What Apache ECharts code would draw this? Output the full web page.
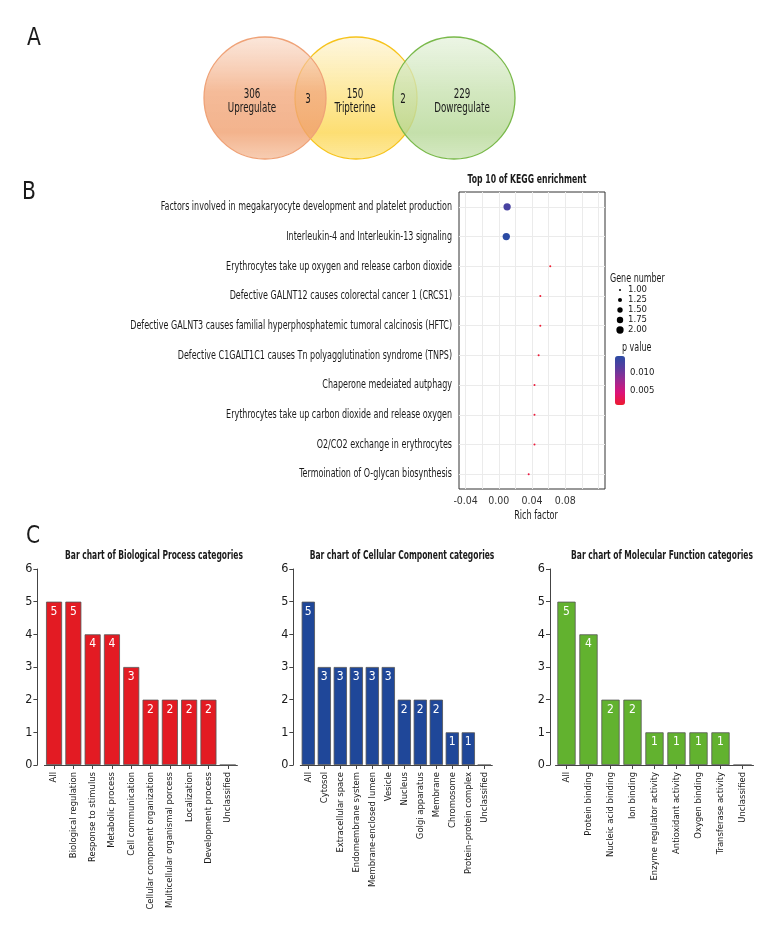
<!DOCTYPE html>
<html><head><meta charset="utf-8">
<script src="https://cdn.jsdelivr.net/npm/echarts@6/dist/echarts.min.js"></script>
<style>html,body{margin:0;padding:0;background:#fff}#c{width:780px;height:936px}</style>
</head><body><div id="c"></div>
<script>
// ---------- Panel A: Venn ----------
const vennSets = ['Upregulate', 'Tripterine', 'Dowregulate'];
const vennCounts = [306, 150, 229];
const vennOverlaps = [3, 2]; // Upregulate∩Tripterine, Tripterine∩Dowregulate

// ---------- Panel B: KEGG ----------
const keggPathways = [
  'Factors involved in megakaryocyte development and platelet production',
  'Interleukin-4 and Interleukin-13 signaling',
  'Erythrocytes take up oxygen and release carbon dioxide',
  'Defective GALNT12 causes colorectal cancer 1 (CRCS1)',
  'Defective GALNT3 causes familial hyperphosphatemic tumoral calcinosis (HFTC)',
  'Defective C1GALT1C1 causes Tn polyagglutination syndrome (TNPS)',
  'Chaperone medeiated autphagy',
  'Erythrocytes take up carbon dioxide and release oxygen',
  'O2/CO2 exchange in erythrocytes',
  'Termoination of O-glycan biosynthesis'
];
const keggRichFactor = [0.010, 0.009, 0.062, 0.050, 0.050, 0.048, 0.043, 0.043, 0.043, 0.036];
const keggGeneNumber = [2, 2, 1, 1, 1, 1, 1, 1, 1, 1];
const keggPValue = [0.0125, 0.0145, 0.0011, 0.0013, 0.0013, 0.0014, 0.0016, 0.0016, 0.0016, 0.0019];
const richTickLabels = [-0.04, 0, 0.04, 0.08];
const richGridBreaks = [-0.04, -0.02, 0, 0.02, 0.04, 0.06, 0.08, 0.10, 0.12];
const geneLegendValues = [1.00, 1.25, 1.50, 1.75, 2.00];
const pTickLabels = [0.005, 0.010];

// ---------- Panel C: GO bar charts ----------
const bpCategories = ['All', 'Biological regulation', 'Response to stimulus', 'Metabolic process', 'Cell communication',
  'Cellular component organization', 'Multicellular organismal porcess', 'Localization', 'Development process', 'Unclassified'];
const bpValues = [5, 5, 4, 4, 3, 2, 2, 2, 2, 0];
const ccCategories = ['All', 'Cytosol', 'Extracellular space', 'Endomembrane system', 'Membrane-enclosed lumen', 'Vesicle',
  'Nucleus', 'Golgi apparatus', 'Membrane', 'Chromosome', 'Protein\u2013protein complex', 'Unclassified'];
const ccValues = [5, 3, 3, 3, 3, 3, 2, 2, 2, 1, 1, 0];
const mfCategories = ['All', 'Protein binding', 'Nucleic acid binding', 'Ion binding', 'Enzyme regulator activity',
  'Antioxidant activity', 'Oxygen binding', 'Transferase activity', 'Unclassified'];
const mfValues = [5, 4, 2, 2, 1, 1, 1, 1, 0];

// ---------- styling / layout ----------
const FONT = "'DejaVu Sans Condensed', 'Liberation Sans Narrow', sans-serif";
const TXT = '#1a1a1a';
const vennLayout = {
  centers: [[61, 61], [152, 61], [250, 61]],
  r: 61,
  drawOrder: [1, 0, 2],
  setLabelPos: [[48, 64], [151, 64], [258, 64]],
  overlapLabelPos: [[104, 62], [199, 62]]
};
const vennStyle = [
  { stops: ['rgba(248,214,194,0.6)', 'rgba(242,168,124,0.78)', 'rgba(240,160,112,0.8)', 'rgba(244,184,146,0.7)'], stroke: '#efa277' },
  { stops: ['rgba(254,244,212,0.75)', 'rgba(253,228,136,0.8)', 'rgba(252,214,80,0.8)', 'rgba(253,226,124,0.75)'], stroke: '#f6c31c' },
  { stops: ['rgba(228,241,218,0.7)', 'rgba(200,226,176,0.8)', 'rgba(182,216,150,0.8)', 'rgba(198,225,174,0.75)'], stroke: '#79b94a' }
];
const pColors = ['#ee1b2f', '#dc137a', '#9c2a92', '#5b3c9f', '#2b4ba4'];
const sizeOf = g => Math.sqrt(4 + 49.3 * (g - 1));

const chart = echarts.init(document.getElementById('c'), null, { renderer: 'canvas' });

function barSeries(values, color, idx) {
  return {
    type: 'bar', xAxisIndex: idx, yAxisIndex: idx, data: values, barCategoryGap: '17%',
    itemStyle: { color: color, borderColor: '#555', borderWidth: 0.8 },
    label: { show: true, position: 'insideTop', distance: 4, color: '#fff', fontSize: 12, fontFamily: FONT,
      formatter: p => (p.value > 0 ? String(p.value) : '') },
    silent: true
  };
}
function barYAxis(idx, offset) {
  return {
    type: 'value', gridIndex: idx, min: 0, max: 6, interval: 1, offset: offset,
    axisLine: { show: true, lineStyle: { color: '#444', width: 1 } },
    axisTick: { show: true, length: 4, lineStyle: { color: '#444' } },
    axisLabel: { fontSize: 12.5, color: TXT, fontFamily: FONT, margin: 5 },
    splitLine: { show: false }
  };
}
function barXAxis(idx, cats) {
  return {
    type: 'category', gridIndex: idx, data: cats,
    axisLine: { show: true, lineStyle: { color: '#444', width: 1 } },
    axisTick: { show: true, alignWithLabel: true, length: 4, lineStyle: { color: '#444' } },
    axisLabel: { rotate: 90, interval: 0, fontSize: 9.4, color: TXT, fontFamily: FONT, margin: 7 }
  };
}
function gText(text, x, y, size, sx, opts) {
  return Object.assign({ type: 'text', x: x, y: y, scaleX: sx,
    style: { text: text, fontSize: size, fontFamily: FONT, fill: TXT, align: 'center', verticalAlign: 'middle' } }, opts || {});
}

const noBounds = { outerBoundsMode: 'none', containLabel: false };
const option = {
  animation: false,
  textStyle: { fontFamily: FONT },
  grid: [
    Object.assign({ left: 204, top: 37, width: 312, height: 122 }, noBounds),          // 0 venn
    Object.assign({ left: 459, top: 192, width: 146, height: 297, show: true, borderColor: '#333', borderWidth: 1, backgroundColor: 'transparent' }, noBounds), // 1 kegg
    Object.assign({ left: 614, top: 285, width: 12, height: 50 }, noBounds),           // 2 size legend
    Object.assign({ left: 615, top: 356, width: 10, height: 49 }, noBounds),           // 3 colorbar axis
    Object.assign({ left: 44.4, top: 569, width: 193, height: 196 }, noBounds),        // 4 BP
    Object.assign({ left: 300.3, top: 569, width: 192, height: 196 }, noBounds),       // 5 CC
    Object.assign({ left: 555.5, top: 569, width: 198, height: 196 }, noBounds)        // 6 MF
  ],
  xAxis: [
    { type: 'value', gridIndex: 0, min: 0, max: 312, show: false },
    { type: 'value', gridIndex: 1, min: -0.048, max: 0.128, interval: 0.008,
      splitLine: { show: false }, axisLine: { show: false }, axisTick: { show: false },
      axisLabel: { interval: 0, fontSize: 10.5, color: '#333', fontFamily: FONT, margin: 7,
        formatter: v => richTickLabels.some(t => Math.abs(t - v) < 1e-9) ? (Math.abs(v) < 1e-9 ? 0 : v).toFixed(2) : '' } },
    { type: 'value', gridIndex: 2, min: -1, max: 1, show: false },
    { type: 'value', gridIndex: 3, min: 0, max: 1, show: false },
    barXAxis(4, bpCategories),
    barXAxis(5, ccCategories),
    barXAxis(6, mfCategories)
  ],
  yAxis: [
    { type: 'value', gridIndex: 0, min: 0, max: 122, inverse: true, show: false },
    { type: 'category', gridIndex: 1, data: keggPathways, inverse: true,
      axisLine: { show: false },
      axisTick: { show: true, alignWithLabel: true, length: 3, lineStyle: { color: '#333' } },
      axisLabel: { show: false },
      splitLine: { show: false } },
    { type: 'category', gridIndex: 2, data: geneLegendValues.map(v => v.toFixed(2)), inverse: true, position: 'right',
      axisLine: { show: false }, axisTick: { show: false },
      axisLabel: { interval: 0, fontSize: 9.5, color: TXT, fontFamily: FONT, margin: 2 } },
    { type: 'value', gridIndex: 3, min: Math.min(...keggPValue), max: Math.max(...keggPValue), splitNumber: 2, position: 'right',
      axisLine: { show: false }, axisTick: { show: false }, splitLine: { show: false },
      axisLabel: { fontSize: 9.5, color: TXT, fontFamily: FONT, margin: 5,
        formatter: v => pTickLabels.some(t => Math.abs(t - v) < 1e-9) ? v.toFixed(3) : '' } },
    barYAxis(4, 7),
    barYAxis(5, 7),
    barYAxis(6, 5.5)
  ],
  visualMap: [{
    type: 'continuous', seriesIndex: 2, dimension: 2,
    min: Math.min(...keggPValue), max: Math.max(...keggPValue),
    left: 615, top: 356, itemWidth: 10, itemHeight: 49, padding: 0,
    calculable: false, hoverLink: false, text: null, showLabel: false,
    inRange: { color: pColors }
  }],
  series: [
    { // 0 venn circles
      type: 'custom', xAxisIndex: 0, yAxisIndex: 0, silent: true, z: 2, clip: false,
      data: vennLayout.drawOrder.map(i => [i, vennCounts[i]]),
      renderItem: (params, api) => {
        const i = api.value(0);
        const c = api.coord(vennLayout.centers[i]);
        const r = api.size([vennLayout.r, 0])[0];
        const st = vennStyle[i];
        return {
          type: 'circle', shape: { cx: c[0], cy: c[1], r: r },
          style: {
            fill: new echarts.graphic.LinearGradient(0, 0, 0, 1, [
              { offset: 0, color: st.stops[0] }, { offset: 0.45, color: st.stops[1] },
              { offset: 0.78, color: st.stops[2] }, { offset: 1, color: st.stops[3] }]),
            stroke: st.stroke, lineWidth: 1.3
          }
        };
      }
    },
    { // 1 venn texts
      type: 'custom', xAxisIndex: 0, yAxisIndex: 0, silent: true, z: 3, clip: false,
      data: vennSets.map((s, i) => [i, 0]).concat(vennOverlaps.map((o, i) => [i, 1])),
      renderItem: (params, api) => {
        const i = api.value(0), kind = api.value(1);
        const pos = kind === 0 ? vennLayout.setLabelPos[i] : vennLayout.overlapLabelPos[i];
        const p = api.coord(pos);
        const txt = kind === 0 ? vennCounts[i] + '\n' + vennSets[i] : String(vennOverlaps[i]);
        return {
          type: 'text', x: p[0], y: p[1], scaleX: 0.72,
          style: { text: txt, fontSize: 13.5, fontFamily: FONT, fill: TXT, align: 'center', verticalAlign: 'middle', lineHeight: 14 }
        };
      }
    },
    { // 2 KEGG dot plot
      type: 'scatter', xAxisIndex: 1, yAxisIndex: 1, z: 4,
      data: keggPathways.map((p, i) => [keggRichFactor[i], p, keggPValue[i], keggGeneNumber[i]]),
      symbolSize: v => sizeOf(v[3]),
      itemStyle: { opacity: 1 },
      markLine: {
        silent: true, symbol: 'none', z: 1, animation: false,
        label: { show: false },
        lineStyle: { color: '#ebebeb', width: 1, type: 'solid' },
        emphasis: { disabled: true },
        data: richGridBreaks.map(b => ({ xAxis: b })).concat(keggPathways.map(p => ({ yAxis: p })))
      }
    },
    { // 3 size legend
      type: 'scatter', xAxisIndex: 2, yAxisIndex: 2, silent: true,
      data: geneLegendValues.map(v => [0, v.toFixed(2)]),
      symbolSize: v => sizeOf(parseFloat(v[1])),
      itemStyle: { color: '#000', opacity: 1 }
    },
    barSeries(bpValues, '#e31b23', 4),
    barSeries(ccValues, '#1f4799', 5),
    barSeries(mfValues, '#62b22f', 6),
    { // 7 KEGG pathway labels (condensed)
      type: 'custom', xAxisIndex: 1, yAxisIndex: 1, silent: true, clip: false, z: 5,
      data: keggPathways.map(p => [0, p]),
      encode: { x: 0, y: 1 },
      renderItem: (params, api) => {
        const y = api.coord([0, api.value(1)])[1];
        const x = params.coordSys.x - 7;
        return {
          type: 'text', x: x, y: y, scaleX: 0.712,
          style: { text: keggPathways[params.dataIndex], fontSize: 12.5, fontFamily: FONT, fill: TXT, align: 'right', verticalAlign: 'middle' }
        };
      }
    }
  ],
  graphic: [
    gText('A', 34, 38, 25, 0.9),
    gText('B', 29, 192, 25, 0.9),
    gText('C', 33, 536, 25, 0.9),
    gText('Top 10 of KEGG enrichment', 527, 180, 12, 0.715, { style: { text: 'Top 10 of KEGG enrichment', fontSize: 12, fontWeight: 'bold', fontFamily: FONT, fill: TXT, align: 'center', verticalAlign: 'middle' } }),
    gText('Rich factor', 536, 516, 12.5, 0.72),
    gText('Gene number', 610, 279, 12, 0.74, { style: { text: 'Gene number', fontSize: 12, fontFamily: FONT, fill: TXT, align: 'left', verticalAlign: 'middle' } }),
    gText('p value', 622, 348, 12, 0.74, { style: { text: 'p value', fontSize: 12, fontFamily: FONT, fill: TXT, align: 'left', verticalAlign: 'middle' } }),
    gText('Bar chart of Biological Process categories', 154, 556, 12, 0.70, { style: { text: 'Bar chart of Biological Process categories', fontSize: 12, fontWeight: 'bold', fontFamily: FONT, fill: TXT, align: 'center', verticalAlign: 'middle' } }),
    gText('Bar chart of Cellular Component categories', 402, 556, 12, 0.70, { style: { text: 'Bar chart of Cellular Component categories', fontSize: 12, fontWeight: 'bold', fontFamily: FONT, fill: TXT, align: 'center', verticalAlign: 'middle' } }),
    gText('Bar chart of Molecular Function categories', 662, 556, 12, 0.70, { style: { text: 'Bar chart of Molecular Function categories', fontSize: 12, fontWeight: 'bold', fontFamily: FONT, fill: TXT, align: 'center', verticalAlign: 'middle' } })
  ]
};
chart.setOption(option);
</script>
</body></html>
